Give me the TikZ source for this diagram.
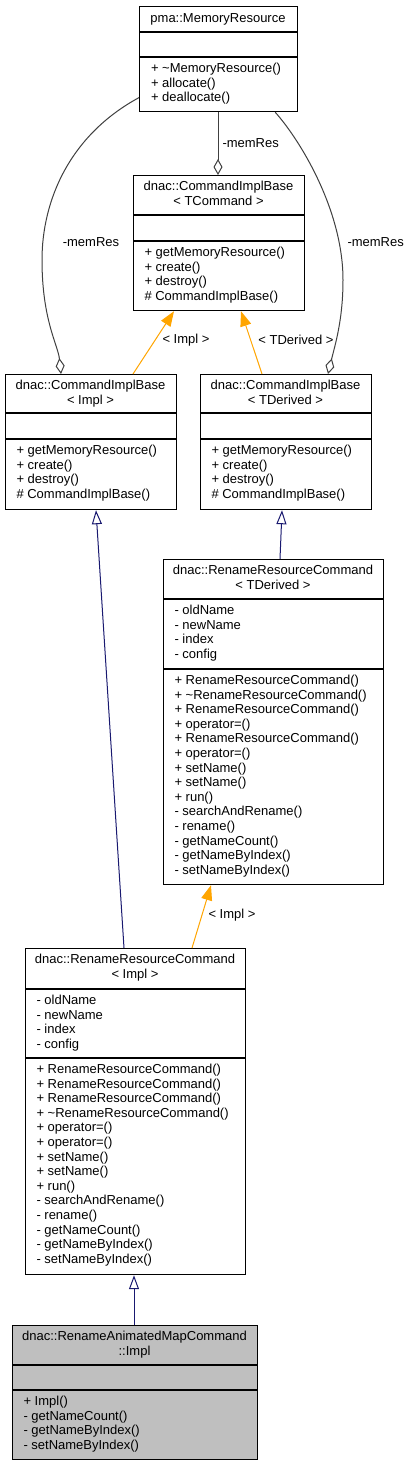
\documentclass[tikz,border=0pt]{standalone}
\usepackage{fontspec}
\setmainfont{Liberation Sans}
\usetikzlibrary{arrows.meta}
\definecolor{edgegrey}{HTML}{404040}
\definecolor{inheritblue}{HTML}{191970}
\definecolor{templateorange}{HTML}{FFA500}
\definecolor{focusgrey}{HTML}{BFBFBF}
\tikzset{
	% ---- default
	every path/.style={line width=1pt},
	every node/.style={font=\fontsize{13}{14.6}\selectfont},
	% ---- custom
	classbox/.style={draw, line width=1.2pt, anchor=north west, inner sep=0pt},
	compartment/.style={line width=1.2pt},
	classtitle/.style={anchor=north, align=center, inner sep=0pt, execute at begin node=\strut},
	members/.style={anchor=north west, align=left, inner sep=0pt, execute at begin node=\strut},
	usage/.style={edgegrey, -{Diamond[open, length=16pt, width=9pt]}},
	inheritance/.style={inheritblue, -{Triangle[open, length=14pt, width=10pt]}},
	templatearg/.style={templateorange, -{Triangle[length=15pt, width=11pt]}},
	edgelabel/.style={inner sep=0pt},
}

\begin{document}
\begin{tikzpicture}[x=1pt, y=-1pt]

% frame %{{{2

	\fill[white] (0,0) rectangle (411,1465);
	\useasboundingbox (0,0) rectangle (411,1465);

% classes %{{{2

	\node[classbox, minimum width=158pt, minimum height=105pt] (memres) at (139,6) {};
	\node[classbox, minimum width=171pt, minimum height=135pt] (baseTCmd) at (133,175) {};
	\node[classbox, minimum width=171pt, minimum height=135pt] (baseImpl) at (5,374) {};
	\node[classbox, minimum width=171pt, minimum height=135pt] (baseTDer) at (200,374) {};
	\node[classbox, minimum width=220pt, minimum height=325pt] (renTDer) at (163,559) {};
	\node[classbox, minimum width=220pt, minimum height=326pt] (renImpl) at (25,948) {};
	\node[classbox, fill=focusgrey, minimum width=245pt, minimum height=134pt] (animImpl) at (12,1325) {};

% compartments %{{{2

	\draw[compartment] ([yshift=-26pt]memres.north west) -- ([yshift=-26pt]memres.north east);
	\draw[compartment] ([yshift=-51pt]memres.north west) -- ([yshift=-51pt]memres.north east);
	\draw[compartment] ([yshift=-40pt]baseTCmd.north west) -- ([yshift=-40pt]baseTCmd.north east);
	\draw[compartment] ([yshift=-66pt]baseTCmd.north west) -- ([yshift=-66pt]baseTCmd.north east);
	\draw[compartment] ([yshift=-39pt]baseImpl.north west) -- ([yshift=-39pt]baseImpl.north east);
	\draw[compartment] ([yshift=-65pt]baseImpl.north west) -- ([yshift=-65pt]baseImpl.north east);
	\draw[compartment] ([yshift=-39pt]baseTDer.north west) -- ([yshift=-39pt]baseTDer.north east);
	\draw[compartment] ([yshift=-65pt]baseTDer.north west) -- ([yshift=-65pt]baseTDer.north east);
	\draw[compartment] ([yshift=-40pt]renTDer.north west) -- ([yshift=-40pt]renTDer.north east);
	\draw[compartment] ([yshift=-110pt]renTDer.north west) -- ([yshift=-110pt]renTDer.north east);
	\draw[compartment] ([yshift=-41pt]renImpl.north west) -- ([yshift=-41pt]renImpl.north east);
	\draw[compartment] ([yshift=-110pt]renImpl.north west) -- ([yshift=-110pt]renImpl.north east);
	\draw[compartment] ([yshift=-40pt]animImpl.north west) -- ([yshift=-40pt]animImpl.north east);
	\draw[compartment] ([yshift=-65pt]animImpl.north west) -- ([yshift=-65pt]animImpl.north east);

% class texts %{{{2

	\node[classtitle] (memres-t) at (218,11.5) {pma::MemoryResource};
	\node[members] (memres-m) at (150.5,62.5) {+ \textasciitilde MemoryResource()\\+ allocate()\\+ deallocate()};

	\node[classtitle] (baseTCmd-t) at (218.5,180.5) {dnac::CommandImplBase\\< TCommand >};
	\node[members] (baseTCmd-m) at (144,246.5) {+ getMemoryResource()\\+ create()\\+ destroy()\\\# CommandImplBase()};

	\node[classtitle] (baseImpl-t) at (90.5,379.5) {dnac::CommandImplBase\\< Impl >};
	\node[members] (baseImpl-m) at (16,444.5) {+ getMemoryResource()\\+ create()\\+ destroy()\\\# CommandImplBase()};

	\node[classtitle] (baseTDer-t) at (285.5,379.5) {dnac::CommandImplBase\\< TDerived >};
	\node[members] (baseTDer-m) at (211,444.5) {+ getMemoryResource()\\+ create()\\+ destroy()\\\# CommandImplBase()};

	\node[classtitle] (renTDer-t) at (273,564.5) {dnac::RenameResourceCommand\\< TDerived >};
	\node[members] (renTDer-a) at (174,604.5) {- oldName\\- newName\\- index\\- config};
	\node[members] (renTDer-m) at (174,674.5) {+ RenameResourceCommand()\\+ \textasciitilde RenameResourceCommand()\\+ RenameResourceCommand()\\+ operator=()\\+ RenameResourceCommand()\\+ operator=()\\+ setName()\\+ setName()\\+ run()\\- searchAndRename()\\- rename()\\- getNameCount()\\- getNameByIndex()\\- setNameByIndex()};

	\node[classtitle] (renImpl-t) at (135,953.5) {dnac::RenameResourceCommand\\< Impl >};
	\node[members] (renImpl-a) at (36,994.5) {- oldName\\- newName\\- index\\- config};
	\node[members] (renImpl-m) at (36,1063.5) {+ RenameResourceCommand()\\+ RenameResourceCommand()\\+ RenameResourceCommand()\\+ \textasciitilde RenameResourceCommand()\\+ operator=()\\+ operator=()\\+ setName()\\+ setName()\\+ run()\\- searchAndRename()\\- rename()\\- getNameCount()\\- getNameByIndex()\\- setNameByIndex()};

	\node[classtitle] (animImpl-t) at (134.5,1330.5) {dnac::RenameAnimatedMapCommand\\::Impl};
	\node[members] (animImpl-m) at (23,1395.5) {+ Impl()\\- getNameCount()\\- getNameByIndex()\\- setNameByIndex()};

% relations %{{{2

	\draw[usage] ([yshift=-38.5pt]memres.west) .. controls (70,135) and (42,200) .. (42,260) .. controls (42,320) and (58,345) .. ([xshift=56pt]baseImpl.north west);
	\draw[usage] ([xshift=79pt]memres.south west) -- ([xshift=85pt]baseTCmd.north west);
	\draw[usage] ([xshift=-23pt]memres.south east) .. controls (300,140) and (343,210) .. (343,280) .. controls (343,320) and (335,345) .. ([xshift=128pt]baseTDer.north west);

	\draw[templatearg] ([xshift=128pt]baseImpl.north west) -- ([xshift=41pt]baseTCmd.south west);
	\draw[templatearg] ([xshift=62pt]baseTDer.north west) -- ([xshift=108pt]baseTCmd.south west);
	\draw[templatearg] ([xshift=167pt]renImpl.north west) -- ([xshift=48pt]renTDer.south west);

	\draw[inheritance] ([xshift=99pt]renImpl.north west) -- ([xshift=91pt]baseImpl.south west);
	\draw[inheritance] ([xshift=117pt]renTDer.north west) -- ([xshift=82pt]baseTDer.south west);
	\draw[inheritance] ([xshift=122pt]animImpl.north west) -- ([xshift=109pt]renImpl.south west);

% relation labels %{{{2

	\node[edgelabel] (memResL) at (91,242) {-memRes};
	\node[edgelabel, anchor=west] (memResC) at (222,143) {-memRes};
	\node[edgelabel, anchor=west] (memResR) at (347,242) {-memRes};
	\node[edgelabel] (implA) at (186,340) {< Impl >};
	\node[edgelabel] (tDerived) at (296,340) {< TDerived >};
	\node[edgelabel] (implB) at (232,915) {< Impl >};

% closing %{{{2

\end{tikzpicture}
\end{document}
